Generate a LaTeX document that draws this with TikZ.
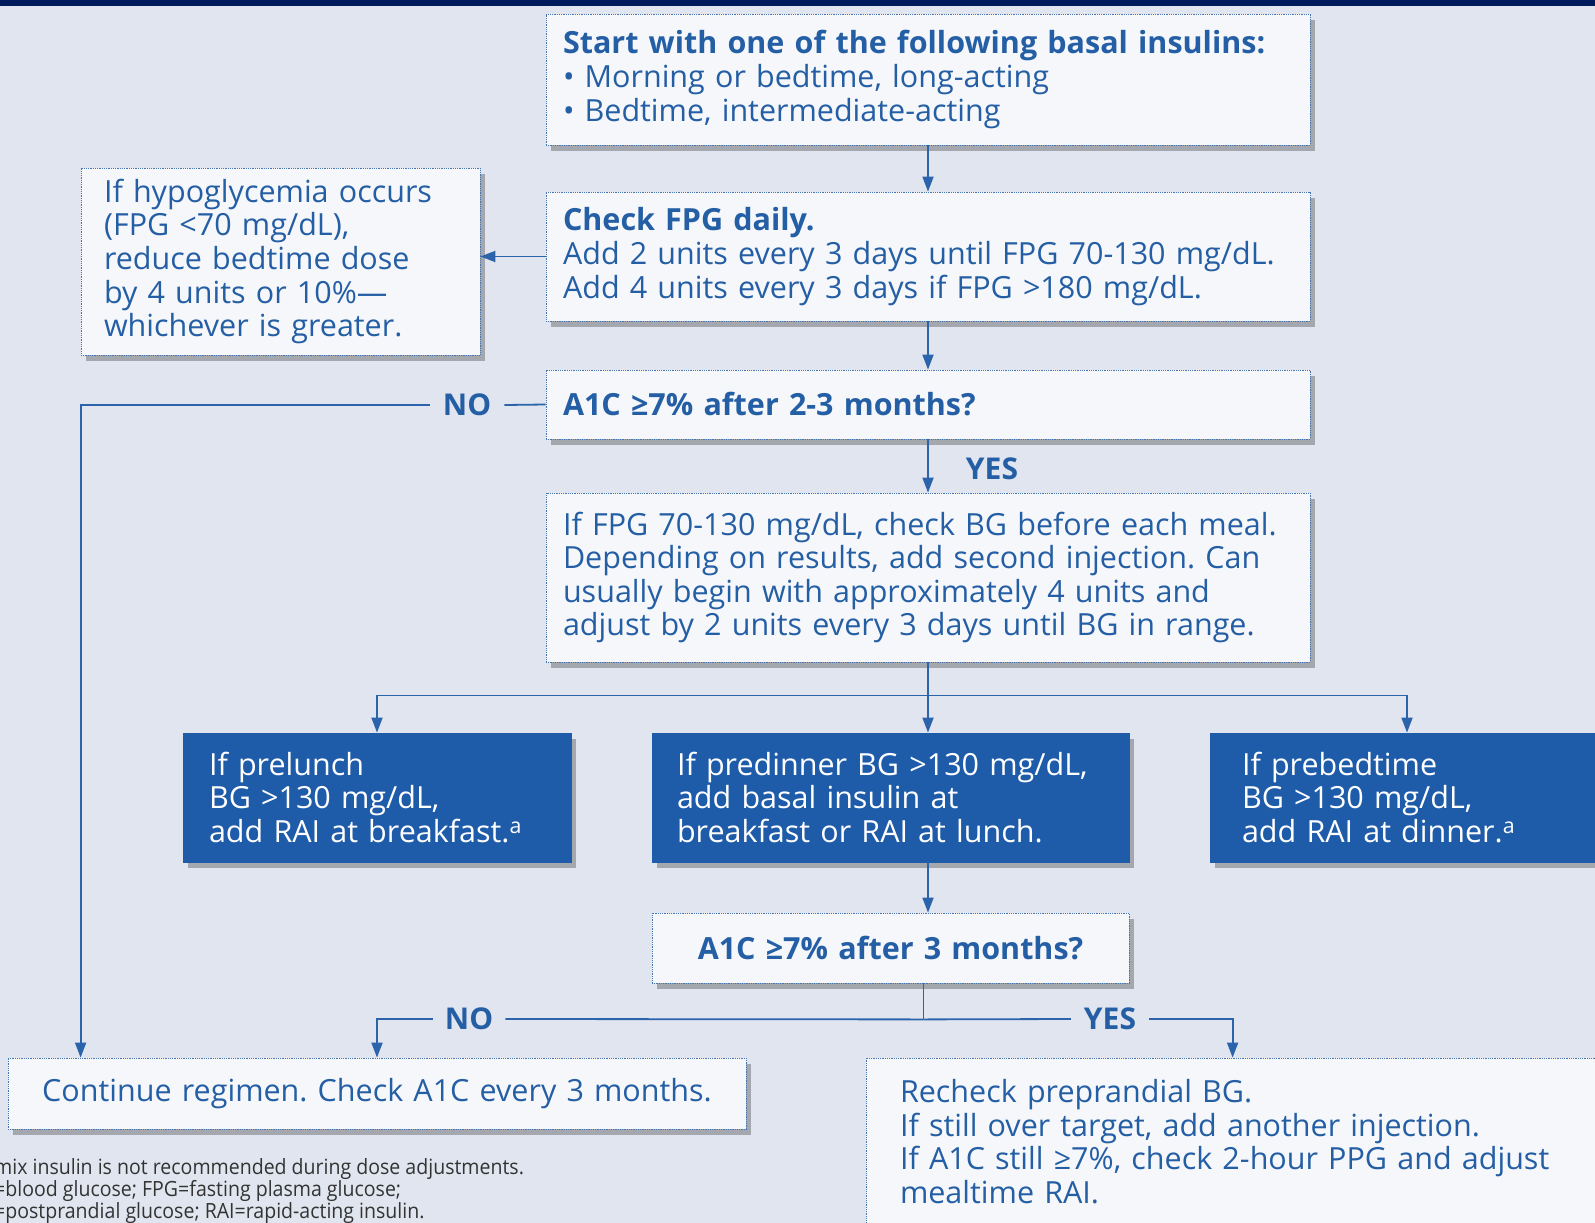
\documentclass[tikz,border=0pt]{standalone}
\usepackage{fontspec}
\setmainfont{Open Sans}
\usetikzlibrary{arrows.meta,shadows}
\frenchspacing

\definecolor{paperColor}{RGB}{224,229,239}
\definecolor{navyColor}{RGB}{0,26,94}
\definecolor{textColor}{RGB}{36,94,164}
\definecolor{fillBlue}{RGB}{30,92,170}
\definecolor{boxColor}{RGB}{246,247,250}
\definecolor{lineColor}{RGB}{44,100,172}

\begin{document}
\begin{tikzpicture}[x=1pt,y=-1pt,
  font=\fontsize{30.5}{33.6}\selectfont,
  card/.style={rectangle, draw=textColor!85, densely dotted, line width=0.8pt,
    fill=boxColor, text=textColor, align=left, inner ysep=0pt,
    drop shadow={shadow xshift=5pt, shadow yshift=-6pt, opacity=0.4, fill=black!70}},
  bluecard/.style={card, draw=fillBlue, solid, fill=fillBlue, text=white},
  wire/.style={draw=lineColor, line width=1.8pt},
  flow/.style={wire, -{Triangle[length=15pt,width=11pt]}},
  answer/.style={text=textColor, font=\fontsize{30}{30}\selectfont\bfseries, inner sep=0pt}]

\path[use as bounding box,fill=paperColor] (0,0) rectangle (1595,1223);
\clip (0,0) rectangle (1595,1223);
\fill[navyColor] (0,0) rectangle (1595,6);

% boxes
\node[card, minimum width=764pt, minimum height=131pt, text width=730pt, inner xsep=17pt]
  (start) at (928,79.5) {\textbf{Start with one of the following basal insulins:}\\
  • Morning or bedtime, long-acting\\
  • Bedtime, intermediate-acting};

\node[card, minimum width=764pt, minimum height=129pt, text width=730pt, inner xsep=17pt]
  (check) at (928,256.5) {\textbf{Check FPG daily.}\\
  Add 2 units every 3 days until FPG 70-130 mg/dL.\\
  Add 4 units every 3 days if FPG >180 mg/dL.};

\node[card, minimum width=399pt, minimum height=187pt, text width=353pt, inner xsep=23pt]
  (hypo) at (280.5,261.5) {If hypoglycemia occurs\\
  (FPG <70 mg/dL),\\
  reduce bedtime dose\\
  by 4 units or 10\%—\\
  whichever is greater.};

\node[card, minimum width=764pt, minimum height=69pt, text width=730pt, inner xsep=17pt]
  (a1c) at (928,404.5) {\textbf{A1C ≥7\% after 2-3 months?}};

\node[card, minimum width=764pt, minimum height=169pt, text width=730pt, inner xsep=17pt]
  (iffpg) at (928,577.5) {If FPG 70-130 mg/dL, check BG before each meal.\\
  Depending on results, add second injection. Can\\
  usually begin with approximately 4 units and\\
  adjust by 2 units every 3 days until BG in range.};

\node[bluecard, minimum width=388pt, minimum height=129pt, text width=336pt, inner xsep=26pt]
  (prelunch) at (377,797.5) {If prelunch\\
  BG >130 mg/dL,\\
  add RAI at breakfast.\textsuperscript{a}};

\node[bluecard, minimum width=477pt, minimum height=129pt, text width=427pt, inner xsep=25pt]
  (predinner) at (890.5,797.5) {If predinner BG >130 mg/dL,\\
  add basal insulin at\\
  breakfast or RAI at lunch.};

\node[bluecard, minimum width=394pt, minimum height=129pt, text width=330pt, inner xsep=32pt]
  (prebed) at (1407,797.5) {If prebedtime\\
  BG >130 mg/dL,\\
  add RAI at dinner.\textsuperscript{a}};

\node[card, align=center, minimum width=477pt, minimum height=70pt, text width=437pt, inner xsep=20pt]
  (a1cthree) at (890.5,948) {\textbf{A1C ≥7\% after 3 months?}};

\node[card, align=center, minimum width=738pt, minimum height=71pt, text width=702pt, inner xsep=18pt]
  (cont) at (377,1093.5) {Continue regimen. Check A1C every 3 months.};

\node[card, minimum width=759pt, minimum height=167pt, text width=691pt, inner xsep=34pt]
  (recheck) at (1245.5,1141.5) {Recheck preprandial BG.\\
  If still over target, add another injection.\\
  If A1C still ≥7\%, check 2-hour PPG and adjust\\
  mealtime RAI.};

% footnotes
\node[anchor=north west, align=left, inner sep=0pt, text=black!80,
  font=\fontsize{21}{20.5}\selectfont, xscale=0.93] (notes) at (-6,1158)
  {mix insulin is not recommended during dose adjustments.\\
  =blood glucose; FPG=fasting plasma glucose;\\
  =postprandial glucose; RAI=rapid-acting insulin.};

% branch labels
\node[answer] (yesA) at (992,469) {YES};
\node[answer, inner xsep=13pt] (noA) at (467,405) {NO};
\node[answer, inner xsep=12pt] (noB) at (469,1019) {NO};
\node[answer, inner xsep=13pt] (yesB) at (1110,1019) {YES};

% connectors
\draw[flow] (start.south) -- (check.north);
\draw[flow] (check.west) -- (check.west -| hypo.east);
\draw[flow] (check.south) -- (a1c.north);
\draw[flow] (a1c.south) -- (iffpg.north);
\draw[wire] (a1c.west) -- (noA.east);
\draw[flow] (noA.west) -| ([xshift=73pt]cont.north west);
\draw[wire] (iffpg.south) -- ++(0,33) coordinate (fork);
\draw[flow] (fork) -- (fork |- predinner.north);
\draw[flow] (fork) -| (prelunch.north);
\draw[flow] (fork) -| (prebed.north);
\draw[flow] (fork |- predinner.south) -- (fork |- a1cthree.north);
\draw[wire] ([xshift=33pt]a1cthree.south) -- ++(0,36) coordinate (join);
\draw[wire] (join) -- (noB.east);
\draw[flow] (noB.west) -| (cont.north);
\draw[wire] (join) -- (yesB.west);
\draw[flow] (yesB.east) -| ([xshift=367pt]recheck.north west);
\end{tikzpicture}
\end{document}
